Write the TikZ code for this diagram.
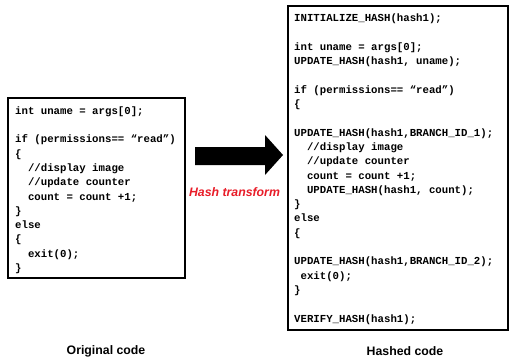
\documentclass[tikz,border=0pt]{standalone}
\usepackage{fontspec}
\setmainfont{Liberation Sans}
\setmonofont{Liberation Mono}
\definecolor{hashred}{RGB}{232,28,40}
\newcommand\blankline{\mbox{}}
\newcommand\ind[1]{\phantom{#1}}
\tikzset{
  codebox/.style={draw=black, line width=2pt},
  codetext/.style={anchor=north west, inner sep=0pt, align=left,
    font=\ttfamily\bfseries\fontsize{10.7}{14.3}\selectfont},
  captiontext/.style={font=\bfseries\fontsize{12.3}{14}\selectfont},
  transformtext/.style={font=\bfseries\itshape\fontsize{12.3}{14}\selectfont, text=hashred},
}
\begin{document}
\begin{tikzpicture}[x=1pt,y=-1pt]
\useasboundingbox (0,0) rectangle (510,362);
% boxes
\draw[codebox] (8,98) rectangle (185,278);
\draw[codebox] (288,6) rectangle (508,330);
% original code
\node[codetext] (orig) at (15,104) {\strut int uname = args[0];\\
\blankline\\
if (permissions== “read”)\\
\{\\
\ind{xx}//display image\\
\ind{xx}//update counter\\
\ind{xx}count = count +1;\\
\}\\
else\\
\{\\
\ind{xx}exit(0);\\
\}};
% hashed code
\node[codetext] (hashed) at (294,11.5) {\strut INITIALIZE\_HASH(hash1);\\
\blankline\\
int uname = args[0];\\
UPDATE\_HASH(hash1, uname);\\
\blankline\\
if (permissions== “read”)\\
\{\\
\blankline\\
UPDATE\_HASH(hash1,BRANCH\_ID\_1);\\
\ind{xx}//display image\\
\ind{xx}//update counter\\
\ind{xx}count = count +1;\\
\ind{xx}UPDATE\_HASH(hash1, count);\\
\}\\
else\\
\{\\
\blankline\\
UPDATE\_HASH(hash1,BRANCH\_ID\_2);\\
\ind{x}exit(0);\\
\}\\
\blankline\\
VERIFY\_HASH(hash1);};
% big arrow
\fill[black] (195,147) -- (265,147) -- (265,135) -- (283,155) -- (265,175) -- (265,165) -- (195,165) -- cycle;
\node[transformtext] (transform) at (234.5,192) {Hash transform};
% captions
\node[captiontext] (origcap) at (106,351) {Original code};
\node[captiontext] (hashcap) at (405,351) {Hashed code};
\end{tikzpicture}
\end{document}
